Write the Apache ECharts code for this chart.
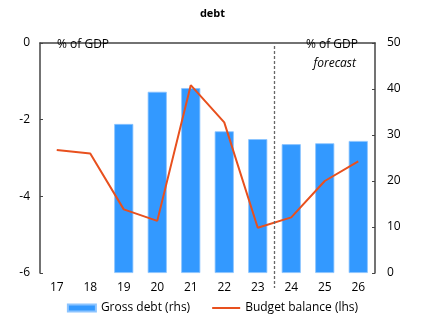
<!DOCTYPE html>
<html><head><meta charset="utf-8">
<script src="https://cdn.jsdelivr.net/npm/echarts@6/dist/echarts.min.js"></script>
<style>html,body{margin:0;padding:0;background:#fff}#c{width:425px;height:323px}</style>
</head><body><div id="c"></div>
<script>
var categories = ['17','18','19','20','21','22','23','24','25','26'];
var grossDebt = [null, null, 32.4, 39.4, 40.2, 30.8, 29.1, 28.0, 28.2, 28.7];
var budgetBalance = [-2.79, -2.88, -4.34, -4.64, -1.10, -2.07, -4.82, -4.55, -3.60, -3.09];
var lhsTicks = {min: -6, max: 0, interval: 2};
var rhsTicks = {min: 0, max: 50, interval: 10};
var forecastStart = 7; // boundary between 23 and 24 (category index units)

var FONT = 'Open Sans';
var FS = 12;
var axisCol = '#444';
var chart = echarts.init(document.getElementById('c'), null, {renderer: 'canvas'});
chart.setOption({
  animation: false,
  textStyle: {fontFamily: FONT},
  title: [
    {text: 'debt', left: 'center', top: 3, textStyle: {fontFamily: FONT, fontWeight: 'bold', fontSize: 11, color: '#000'}},
    {text: '% of GDP', left: 52, top: 34, textStyle: {fontFamily: FONT, fontWeight: 'normal', fontSize: FS, color: '#000'}},
    {text: '% of GDP', right: 62, top: 34, textStyle: {fontFamily: FONT, fontWeight: 'normal', fontSize: FS, color: '#000'}},
    {text: 'forecast', right: 64, top: 53, textStyle: {fontFamily: FONT, fontWeight: 'normal', fontStyle: 'italic', fontSize: FS, color: '#000'}}
  ],
  legend: {
    bottom: 4, left: 'center', itemWidth: 28, itemHeight: 7, itemGap: 22,
    textStyle: {fontFamily: FONT, fontSize: FS, color: '#000'},
    data: [{name: 'Gross debt (rhs)', icon: 'rect'},
           {name: 'Budget balance (lhs)', icon: 'path://M0,0 L30,0 L30,2.2 L0,2.2 Z'}]
  },
  grid: {left: 40, right: 50, top: 43, bottom: 50},
  xAxis: [{
    type: 'category', data: categories, boundaryGap: true,
    axisLine: {lineStyle: {color: axisCol, width: 1.5}},
    axisTick: {inside: true, length: 3, lineStyle: {color: axisCol}},
    axisLabel: {color: '#000', fontSize: FS, margin: 9}
  }, {
    type: 'value', min: 0, max: categories.length, show: false
  }],
  yAxis: [{
    type: 'value', min: lhsTicks.min, max: lhsTicks.max, interval: lhsTicks.interval,
    axisLine: {show: true, lineStyle: {color: axisCol, width: 1.5}},
    axisTick: {show: true, inside: true, length: 3, lineStyle: {color: axisCol}},
    axisLabel: {color: '#000', fontSize: FS, margin: 10},
    splitLine: {show: false}
  }, {
    type: 'value', min: rhsTicks.min, max: rhsTicks.max, interval: rhsTicks.interval, position: 'right',
    axisLine: {show: true, lineStyle: {color: axisCol, width: 1.5}},
    axisTick: {show: true, inside: true, length: 3, lineStyle: {color: axisCol}},
    axisLabel: {color: '#000', fontSize: FS, margin: 12},
    splitLine: {show: false}
  }, {
    type: 'value', min: 0, max: 1, show: false
  }],
  series: [{
    name: 'Gross debt (rhs)', type: 'bar', xAxisIndex: 0, yAxisIndex: 1, data: grossDebt,
    barWidth: '57%',
    itemStyle: {color: '#3399ff', borderColor: '#8cc4ff', borderWidth: 0.8}
  }, {
    name: 'Budget balance (lhs)', type: 'line', xAxisIndex: 0, yAxisIndex: 0, data: budgetBalance,
    symbol: 'none', lineStyle: {color: '#e8501e', width: 2}, itemStyle: {color: '#e8501e'}
  }, {
    name: 'forecast', type: 'line', xAxisIndex: 1, yAxisIndex: 2, clip: false, silent: true,
    data: [[forecastStart, 0.987], [forecastStart, -0.065]], symbol: 'none',
    lineStyle: {color: '#666', width: 1.3, type: [3, 2]}
  }]
});
</script></body></html>
